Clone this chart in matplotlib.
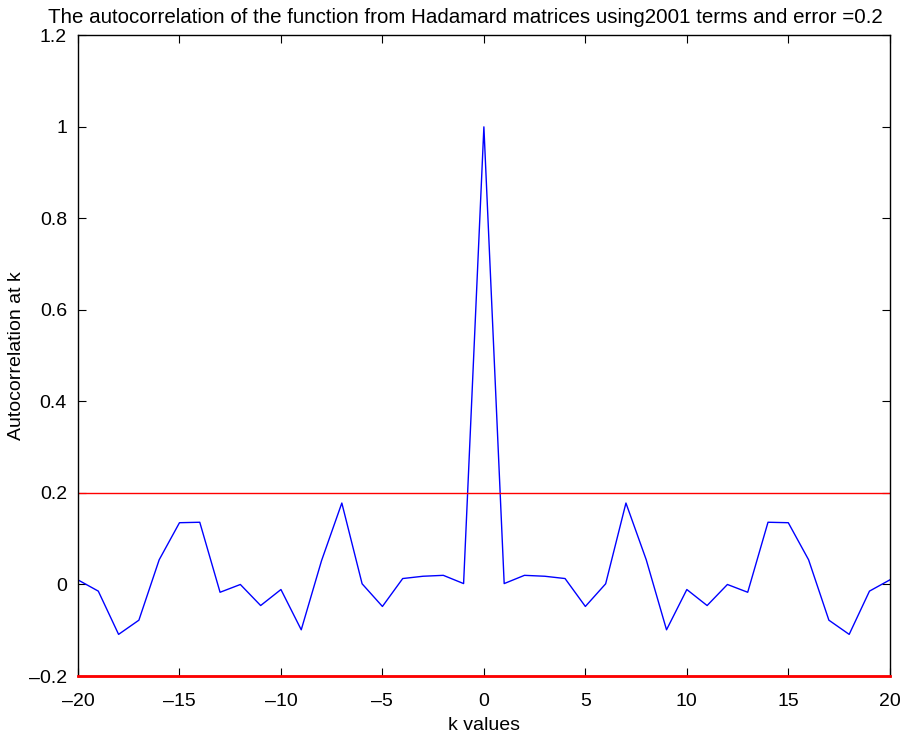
import numpy as np
import matplotlib.pyplot as plt

plt.rcParams['font.family'] = ['Liberation Sans', 'DejaVu Sans']

# autocorrelation values, k = -20..20
k = list(range(-20, 21))
acf = [0.010, -0.0145, -0.109, -0.078, 0.054, 0.135, 0.136, -0.017, 0.000, -0.046,
       -0.011, -0.099, 0.052, 0.178, 0.0015, -0.048, 0.013, 0.018, 0.020, 0.002,
       1.0,
       0.002, 0.020, 0.018, 0.013, -0.048, 0.0015, 0.178, 0.054, -0.099, -0.011,
       -0.046, 0.000, -0.017, 0.136, 0.135, 0.054, -0.078, -0.109, -0.0145, 0.010]
error = 0.2
terms = 2001

fig = plt.figure(figsize=(9.07, 7.36), dpi=100)
ax = fig.add_axes([0.086, 0.0815, 0.895, 0.8705])

ax.plot(k, acf, color='#0000ff', linewidth=1.0)
ax.axhline(error, color='#ff0000', linewidth=1.0)
ax.axhline(-error, color='#ff0000', linewidth=2.0, zorder=5, clip_on=False)

ax.set_xlim(-20, 20)
ax.set_ylim(-0.2, 1.2)
ax.set_xticks(np.arange(-20, 21, 5))
ax.set_yticks(np.arange(-0.2, 1.21, 0.2))
ax.set_yticklabels(['\u20130.2', '0', '0.2', '0.4', '0.6', '0.8', '1', '1.2'])
ax.set_xticklabels(['\u201320', '\u201315', '\u201310', '\u20135', '0', '5', '10', '15', '20'])
ax.tick_params(direction='in', top=True, right=True, length=6, labelsize=14, pad=8)
ax.tick_params(axis='x', pad=12.5)
for s in ax.spines.values():
    s.set_linewidth(1.0)

ax.set_xlabel('k values', fontsize=14, labelpad=4.5)
ax.set_ylabel('Autocorrelation at k', fontsize=14, labelpad=3)
ax.set_title(f'The autocorrelation of the function from Hadamard matrices using{terms} terms and error ={error}',
             fontsize=14.8, pad=9, x=0.477)

fig.savefig('out.png', dpi=100)
